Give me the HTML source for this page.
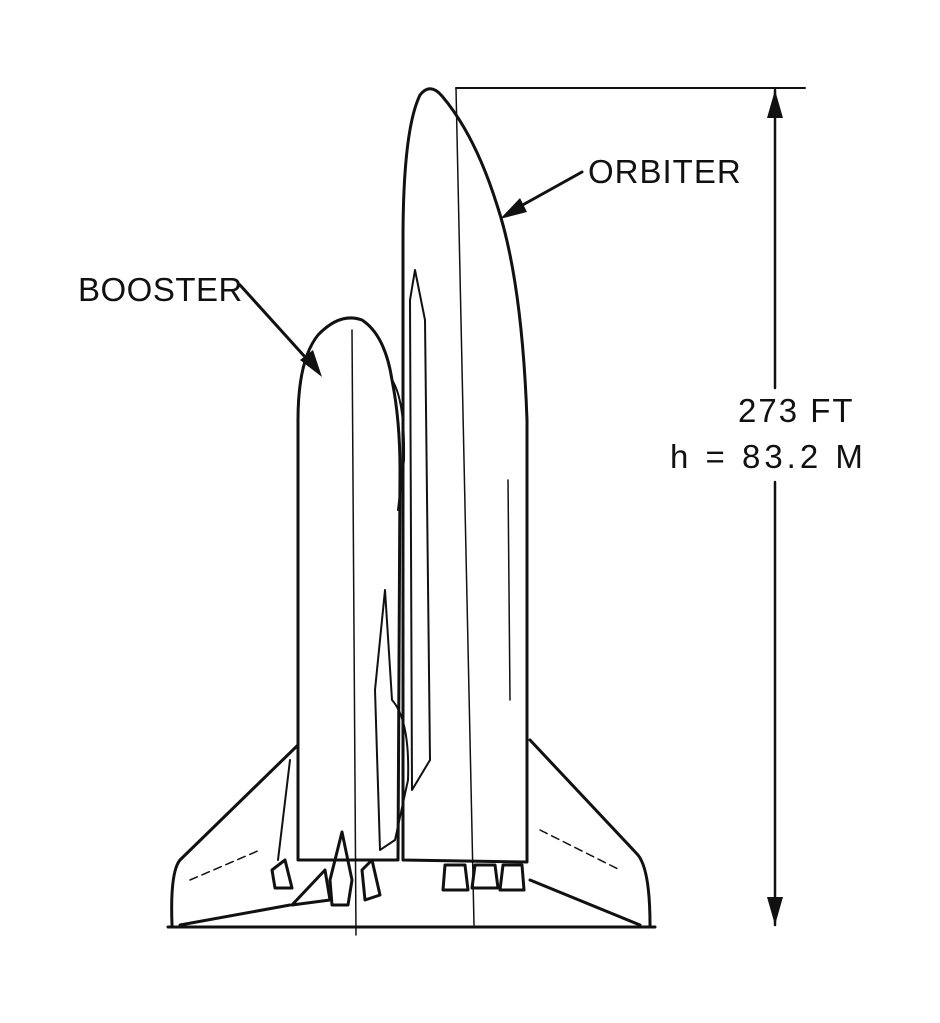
<!DOCTYPE html>
<html><head><meta charset="utf-8"><style>
html,body{margin:0;padding:0;background:#fff;}
svg{display:block}
text{font-family:"Liberation Sans",sans-serif;font-size:33px;fill:#111;}
</style></head><body>
<svg width="940" height="1023" viewBox="0 0 940 1023" xmlns="http://www.w3.org/2000/svg">
<g fill="none" stroke="#111" stroke-width="3" stroke-linejoin="round" stroke-linecap="round">
<line x1="168" y1="927" x2="655" y2="927"/>
<path d="M298 745 L180 860 Q170 872 172 925"/>
<path d="M180 925 L290 905"/>
<path d="M530 740 L638 855 Q650 870 650 925"/>
<path d="M640 925 L530 880"/>
<path d="M403 860 L403 240 Q403 130 420 95 Q430 82 442 96 Q475 135 497 205 Q522 280 527 420 L527 862 Z" fill="#fff"/>
<line x1="456" y1="88" x2="474" y2="925" stroke-width="1.5"/>
<line x1="508" y1="480" x2="510" y2="700" stroke-width="1.5"/>
<path d="M410 300 L415 270 L425 320 L430 760 L412 790 Z" stroke-width="2"/>
<path d="M298 860 L298 420 Q298 360 318 335 Q340 312 362 320 Q385 335 392 380 Q400 420 400 470 L398 860 Z" fill="#fff"/>
<line x1="352" y1="330" x2="356" y2="935" stroke-width="1.5"/>
<path d="M392 380 Q405 400 404 460 L398 510" stroke-width="2"/>
<path d="M375 690 L385 590 L392 700 Q410 720 408 780 L395 840 L380 850 Z" stroke-width="2"/>
<path d="M290 760 L278 860" stroke-width="2"/>
<path d="M272 870 L285 860 L292 888 L275 888 Z"/>
<path d="M330 880 L342 832 L352 880 L348 905 L332 905 Z"/>
<path d="M292 905 L325 870 L330 900 Z"/>
<path d="M362 870 L372 860 L380 895 L365 900 Z"/>
<path d="M445 865 L465 865 L468 890 L443 890 Z"/>
<path d="M475 865 L495 865 L498 888 L472 888 Z"/>
<path d="M503 865 L522 865 L524 890 L500 890 Z"/>
<path d="M540 830 L620 870" stroke-width="1.5" stroke-dasharray="8 5"/>
<path d="M190 880 L260 850" stroke-width="1.5" stroke-dasharray="8 5"/>
<line x1="456" y1="88" x2="805" y2="88" stroke-width="2"/>
<line x1="775" y1="90" x2="775" y2="388" stroke-width="2.5"/>
<line x1="775" y1="482" x2="775" y2="925" stroke-width="2.5"/>
<line x1="582" y1="172" x2="510" y2="212" stroke-width="3"/>
<line x1="240" y1="285" x2="315" y2="368" stroke-width="3"/>
</g>
<g fill="#111">
<polygon points="775,90 767,118 783,118"/>
<polygon points="775,925 767,897 783,897"/>
<polygon points="500,219 520,198 527,212"/>
<polygon points="322,377 300,360 313,350"/>
</g>
<text x="588" y="183" letter-spacing="1">ORBITER</text>
<text x="78" y="301" letter-spacing="0.5">BOOSTER</text>
<text x="738" y="422" letter-spacing="2">273 FT</text>
<text x="670" y="468" letter-spacing="4">h = 83.2 M</text>
</svg>
</body></html>
